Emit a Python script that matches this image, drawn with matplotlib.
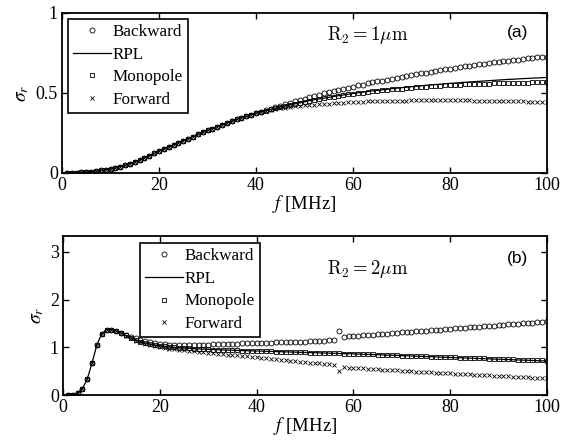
import matplotlib
matplotlib.use('Agg')
import matplotlib.pyplot as plt
import numpy as np

plt.rcParams['font.family'] = 'Liberation Serif'
plt.rcParams['mathtext.fontset'] = 'stix'

# frequency samples in MHz
freq = np.arange(1, 101)

# ---- R2 = 1 um ----
# all four results coincide up to 40 MHz
a_common = [0.000, 0.001, 0.002, 0.004, 0.006, 0.009, 0.012, 0.016, 0.020, 0.025,
            0.031, 0.039, 0.048, 0.058, 0.069, 0.081, 0.094, 0.108, 0.122, 0.137,
            0.150, 0.163, 0.176, 0.189, 0.202, 0.215, 0.228, 0.241, 0.254, 0.266,
            0.278, 0.290, 0.302, 0.313, 0.324, 0.335, 0.345, 0.355, 0.365, 0.374]
a_backward = [.384, .393, .402, .411, .420, .429, .438, .447, .456, .465,
              .473, .481, .489, .497, .505, .512, .519, .526, .533, .540,
              .547, .553, .560, .566, .572, .578, .584, .589, .595, .600,
              .606, .611, .617, .622, .627, .632, .637, .642, .647, .652,
              .657, .661, .666, .670, .675, .679, .683, .687, .691, .695,
              .699, .702, .706, .709, .713, .716, .719, .722, .725, .728]
a_rpl = [.382, .390, .398, .406, .414, .421, .428, .434, .440, .446,
         .452, .458, .463, .468, .473, .478, .483, .488, .492, .497,
         .501, .505, .509, .513, .516, .520, .523, .527, .530, .533,
         .536, .539, .542, .545, .548, .550, .553, .555, .558, .560,
         .562, .565, .567, .569, .571, .573, .575, .577, .579, .581,
         .583, .585, .586, .588, .590, .591, .593, .594, .596, .597]
a_monopole = [.382, .390, .398, .406, .413, .420, .427, .433, .439, .445,
              .451, .457, .462, .467, .472, .477, .482, .486, .491, .495,
              .499, .503, .506, .510, .513, .516, .519, .522, .525, .528,
              .531, .533, .536, .538, .540, .542, .544, .546, .548, .550,
              .551, .552, .554, .555, .556, .557, .558, .559, .560, .561,
              .562, .562, .563, .564, .565, .565, .566, .566, .567, .567]
a_forward = [.380, .387, .393, .399, .405, .409, .413, .416, .419, .422,
             .425, .427, .430, .432, .434, .436, .438, .440, .441, .443,
             .444, .445, .447, .448, .449, .450, .451, .452, .452, .453,
             .453, .454, .454, .455, .455, .455, .455, .455, .455, .455,
             .455, .454, .454, .454, .453, .453, .452, .452, .451, .450,
             .450, .449, .448, .448, .447, .446, .446, .445, .444, .443]

# ---- R2 = 2 um ----
b_common = [0.00, 0.01, 0.04, 0.13, 0.33, 0.67, 1.05, 1.28, 1.37, 1.37, 1.34, 1.30]
b_backward = [1.26, 1.22, 1.19, 1.16, 1.13, 1.11, 1.09, 1.075,
              1.065, 1.058, 1.053, 1.050, 1.050, 1.050, 1.050, 1.052, 1.055, 1.058,
              1.061, 1.064, 1.067, 1.070, 1.073, 1.076, 1.079, 1.082, 1.085, 1.088,
              1.091, 1.094, 1.097, 1.100, 1.103, 1.106, 1.109, 1.112, 1.116, 1.120,
              1.124, 1.128, 1.132, 1.137, 1.142, 1.148, 1.35, 1.22,
              1.228, 1.235, 1.243, 1.250, 1.258, 1.265, 1.273, 1.281, 1.288, 1.296,
              1.303, 1.311, 1.319, 1.326, 1.334, 1.341, 1.349, 1.357, 1.364, 1.372,
              1.380, 1.387, 1.395, 1.402, 1.410, 1.418, 1.425, 1.433, 1.441, 1.448,
              1.456, 1.463, 1.471, 1.479, 1.486, 1.494, 1.501, 1.509, 1.517, 1.524,
              1.532, 1.540]
b_rpl = [1.25, 1.20, 1.16, 1.12, 1.09, 1.07, 1.05, 1.035,
         1.020, 1.010, 1.000, 0.990, 0.985, 0.978, 0.972, 0.966, 0.961, 0.956,
         0.952, 0.948, 0.944, 0.940, 0.937, 0.934, 0.931, 0.928, 0.925, 0.922,
         0.919, 0.916, 0.913, 0.910, 0.907, 0.904, 0.901, 0.898, 0.895, 0.892,
         0.889, 0.886, 0.883, 0.880, 0.877, 0.874, 0.871, 0.868, 0.865, 0.862,
         0.858, 0.855, 0.851, 0.847, 0.844, 0.840, 0.836, 0.833, 0.829, 0.825,
         0.821, 0.818, 0.814, 0.810, 0.806, 0.803, 0.799, 0.795, 0.791, 0.788,
         0.784, 0.780, 0.776, 0.773, 0.769, 0.765, 0.761, 0.758, 0.754, 0.750,
         0.746, 0.743, 0.739, 0.735, 0.731, 0.728, 0.724, 0.720, 0.716, 0.713]
b_monopole = [1.25, 1.20, 1.16, 1.12, 1.09, 1.07, 1.05, 1.035,
              1.020, 1.010, 1.000, 0.990, 0.985, 0.978, 0.972, 0.966, 0.961, 0.956,
              0.952, 0.948, 0.944, 0.940, 0.937, 0.934, 0.931, 0.928, 0.925, 0.922,
              0.919, 0.916, 0.913, 0.910, 0.907, 0.904, 0.901, 0.898, 0.895, 0.892,
              0.889, 0.886, 0.883, 0.880, 0.877, 0.874, 0.871, 0.868, 0.866, 0.863,
              0.859, 0.856, 0.852, 0.849, 0.845, 0.841, 0.838, 0.834, 0.831, 0.827,
              0.823, 0.820, 0.816, 0.813, 0.809, 0.806, 0.802, 0.798, 0.795, 0.791,
              0.788, 0.784, 0.780, 0.777, 0.773, 0.770, 0.766, 0.763, 0.759, 0.755,
              0.752, 0.748, 0.745, 0.741, 0.738, 0.734, 0.730, 0.727, 0.723, 0.720]
b_forward = [1.24, 1.19, 1.14, 1.10, 1.07, 1.04, 1.02, 1.00,
             0.985, 0.972, 0.960, 0.949, 0.938, 0.928, 0.918, 0.908, 0.898, 0.888,
             0.878, 0.868, 0.858, 0.848, 0.838, 0.828, 0.818, 0.808, 0.798, 0.788,
             0.778, 0.768, 0.758, 0.748, 0.738, 0.728, 0.718, 0.708, 0.699, 0.690,
             0.681, 0.672, 0.663, 0.654, 0.645, 0.636, 0.51, 0.58,
             0.574, 0.568, 0.562, 0.556, 0.550, 0.544, 0.538, 0.532, 0.527, 0.521,
             0.515, 0.509, 0.503, 0.498, 0.492, 0.486, 0.481, 0.475, 0.469, 0.464,
             0.458, 0.453, 0.447, 0.442, 0.437, 0.431, 0.426, 0.421, 0.416, 0.411,
             0.406, 0.401, 0.396, 0.391, 0.386, 0.381, 0.376, 0.371, 0.366, 0.361,
             0.356, 0.351]

panels = [
    dict(rect=[0.1088, 0.6086, 0.8509, 0.3620], common=a_common,
         series=(a_backward, a_rpl, a_monopole, a_forward),
         ylim=(0, 1), yticks=[0, 0.5, 1], yticklabels=['0', '0.5', '1'],
         leg_anchor=(0.012, 0.965), r_y=0.86, tag_y=0.875, tag='(a)', radius='1'),
    dict(rect=[0.1105, 0.1063, 0.8491, 0.3597], common=b_common,
         series=(b_backward, b_rpl, b_monopole, b_forward),
         ylim=(0, 3.33), yticks=[0, 1, 2, 3], yticklabels=['0', '1', '2', '3'],
         leg_anchor=(0.159, 0.958), r_y=0.79, tag_y=0.86, tag='(b)', radius='2'),
]

fig = plt.figure(figsize=(5.7, 4.42), dpi=100)

for p in panels:
    ax = fig.add_axes(p['rect'])
    backward, rpl, monopole, forward = [np.array(p['common'] + s) for s in p['series']]

    ax.plot(freq, backward, 'o', ms=3.6, mfc='none', mec='black', mew=0.6, label='Backward')
    ax.plot(freq, rpl, '-', color='black', lw=0.9, label='RPL')
    ax.plot(freq, monopole, 's', ms=3.5, mfc='none', mec='black', mew=0.6, label='Monopole')
    ax.plot(freq, forward, 'x', ms=2.3, color='black', mew=0.6, label='Forward')

    ax.set_xlim(0, 100)
    ax.set_ylim(*p['ylim'])
    ax.set_xticks([0, 20, 40, 60, 80, 100])
    ax.set_yticks(p['yticks'])
    ax.set_yticklabels(p['yticklabels'])
    ax.tick_params(direction='in', top=True, right=True, length=4, width=1.0,
                   labelsize=13, pad=3)
    for s in ax.spines.values():
        s.set_linewidth(1.3)

    ax.set_xlabel(r'$f$ [MHz]', fontsize=13.5, labelpad=-1)
    ax.set_ylabel(r'$\sigma_r$', fontsize=14, labelpad=3)

    ax.text(0.63, p['r_y'], r'$\mathrm{R}_2 = ' + p['radius'] + r'\mu\mathrm{m}$',
            transform=ax.transAxes, ha='center', va='center', fontsize=13.5,
            math_fontfamily='cm')
    ax.text(0.94, p['tag_y'], p['tag'], transform=ax.transAxes,
            ha='center', va='center', fontsize=12.5, family='Liberation Sans')

    leg = ax.legend(loc='upper left', bbox_to_anchor=p['leg_anchor'], fontsize=12.3,
                    numpoints=1, handlelength=2.2, handletextpad=0.1,
                    labelspacing=0.4, borderpad=0.3, borderaxespad=0,
                    fancybox=False, framealpha=1, edgecolor='black')
    leg.get_frame().set_linewidth(1.2)

fig.savefig('out.png', dpi=100)
